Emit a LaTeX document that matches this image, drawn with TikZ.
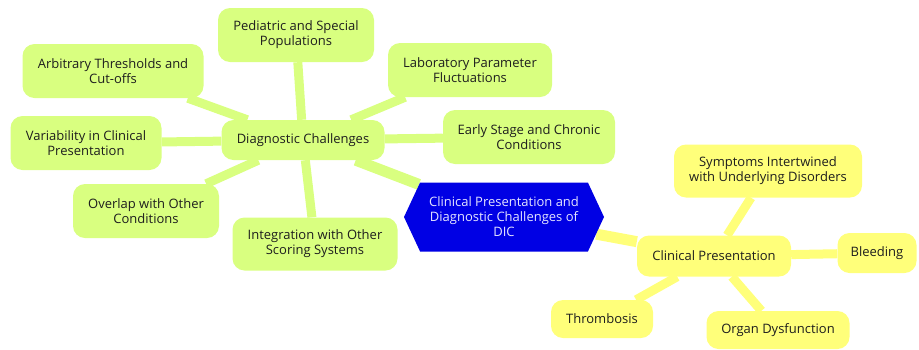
\documentclass[tikz,border=0pt]{standalone}
\usepackage{fontspec}
\setmainfont{Open Sans}
\usetikzlibrary{shapes.symbols,backgrounds}
\definecolor{dcgreen}{RGB}{217,255,128}
\definecolor{cpyellow}{RGB}{255,255,122}
\definecolor{hubblue}{RGB}{0,0,228}
\definecolor{hubtext}{RGB}{228,228,255}
\definecolor{leaftext}{RGB}{30,30,30}

\begin{document}
\begin{tikzpicture}[x=1pt,y=-1pt]
  \tikzset{every node/.style={font=\fontsize{13}{15}\selectfont,text=leaftext,align=center,inner sep=0pt},
           topic/.style={rounded corners=12pt,minimum height=#1},
           greenbox/.style={topic=54pt,fill=dcgreen},
           yellowbox/.style={topic=40pt,fill=cpyellow},
           hub/.style={shape=signal,signal to=west and east,signal pointer angle=130,
                       fill=hubblue,text=hubtext,minimum width=200pt,minimum height=69pt},
           greenlink/.style={draw=dcgreen,line width=9pt},
           yellowlink/.style={draw=cpyellow,line width=9pt}}
  \useasboundingbox (0,0) rectangle (919,349);
  % centre
  \node[hub] (dic) at (504,217) {Clinical Presentation and\\Diagnostic Challenges of\\DIC};
  % diagnostic challenges branch
  \node[greenbox,minimum width=163pt,minimum height=40pt] (diag) at (303,140) {Diagnostic Challenges};
  \node[greenbox,minimum width=156pt] (pedi) at (296,35) {Pediatric and Special\\Populations};
  \node[greenbox,minimum width=181pt] (arbi) at (113,71) {Arbitrary Thresholds and\\Cut-offs};
  \node[greenbox,minimum width=151pt] (vari) at (86,143) {Variability in Clinical\\Presentation};
  \node[greenbox,minimum width=164pt] (labo) at (470,70) {Laboratory Parameter\\Fluctuations};
  \node[greenbox,minimum width=172pt] (earl) at (529,137) {Early Stage and Chronic\\Conditions};
  \node[greenbox,minimum width=146pt] (over) at (146,211) {Overlap with Other\\Conditions};
  \node[greenbox,minimum width=165pt,minimum height=53pt] (inte) at (315,244) {Integration with Other\\Scoring Systems};
  % clinical presentation branch
  \node[yellowbox,minimum width=154pt,minimum height=41pt] (clin) at (714,256) {Clinical Presentation};
  \node[yellowbox,minimum width=188pt,minimum height=53pt] (symp) at (768,171) {Symptoms Intertwined\\with Underlying Disorders};
  \node[yellowbox,minimum width=79pt] (blee) at (877,253) {Bleeding};
  \node[yellowbox,minimum width=102pt,minimum height=38pt] (thro) at (602,319) {Thrombosis};
  \node[yellowbox,minimum width=143pt,minimum height=38pt] (orga) at (778,330) {Organ Dysfunction};
  \begin{scope}[on background layer]
    \draw[greenlink,line width=11pt] (dic) -- (diag);
    \draw[yellowlink,line width=11pt] (dic) -- (clin);
    \foreach \leaf in {pedi,arbi,vari,labo,earl,over,inte}
      \draw[greenlink] (diag) -- (\leaf);
    \foreach \leaf in {symp,blee,thro,orga}
      \draw[yellowlink] (clin) -- (\leaf);
  \end{scope}
\end{tikzpicture}
\end{document}
